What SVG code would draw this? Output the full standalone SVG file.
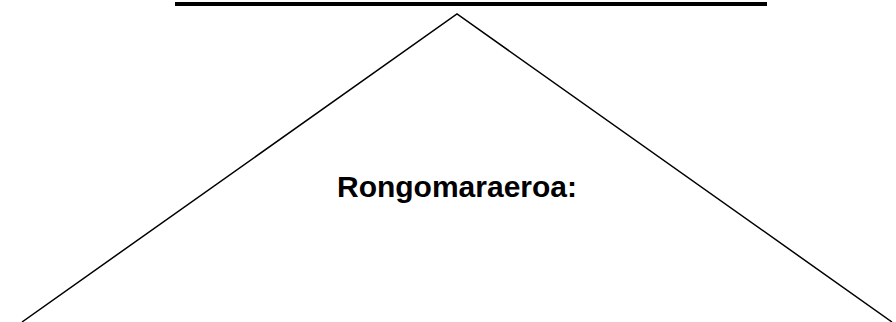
<svg xmlns="http://www.w3.org/2000/svg" width="896" height="322" viewBox="0 0 896 322">
<style>
.edge{fill:none;stroke:#000;stroke-width:1.5}
.lbl{font-family:"Liberation Sans",Arial,sans-serif;font-weight:bold;font-size:30px;fill:#000}
</style>
<rect width="896" height="322" fill="#fff"/>
<g id="header"><rect x="175" y="2" width="592" height="4" fill="#000"/></g>
<g id="connectors">
<polyline class="edge" points="22,322 457,14 892,322"/>
</g>
<g id="label"><text class="lbl" x="457" y="197" text-anchor="middle">Rongomaraeroa:</text></g>
</svg>
